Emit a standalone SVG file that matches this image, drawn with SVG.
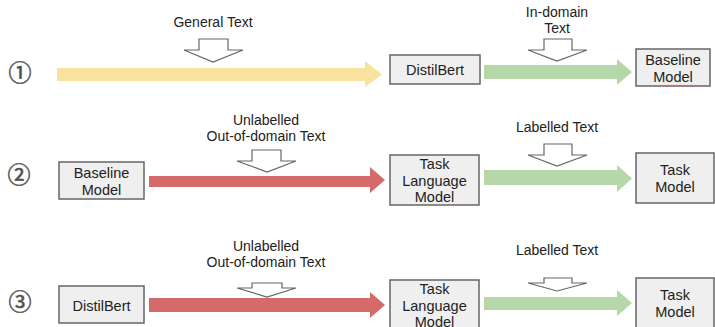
<svg xmlns="http://www.w3.org/2000/svg" width="715" height="327" viewBox="0 0 715 327">
  <style>
    text { font-family: "Liberation Sans", Arial, sans-serif; font-size: 14px; fill: #222; text-anchor: middle; }
    .box rect { fill: #efefef; stroke: #666; stroke-width: 1.5; }
    .box text { font-size: 14.5px; }
    .num { font-family: "Noto Sans CJK JP", "DejaVu Sans", sans-serif; font-size: 23px; font-weight: 400; fill: #444; stroke: #666; stroke-width: 0.7; }
    .feed { fill: #fff; stroke: #666; stroke-width: 1.2; stroke-linejoin: miter; }
    .yellow { fill: #f9e29d; }
    .green { fill: #b6d7a8; }
    .red { fill: #d46a6a; }
  </style>

  <!-- step numbers -->
  <g id="step-numbers">
    <text class="num" x="20" y="81">①</text>
    <text class="num" x="19" y="183">②</text>
    <text class="num" x="20" y="310">③</text>
  </g>

  <!-- connectors: wide block arrows between models -->
  <g id="connectors">
    <polygon class="yellow" points="57,68 365,68 365,61 382,74.5 365,87 365,81 57,81"/>
    <polygon class="green" points="484,65 617,65 617,59 632,72 617,85 617,79 484,79"/>
    <polygon class="red" points="149,176 370,176 370,167 385,180 370,193 370,187 149,187"/>
    <polygon class="green" points="484,170 617,170 617,165 632,178.5 617,192 617,185 484,185"/>
    <polygon class="red" points="149,298 370,298 370,292 385,305 370,318 370,312 149,312"/>
    <polygon class="green" points="484,297 617,297 617,290 632,303 617,316 617,310 484,310"/>
  </g>

  <!-- data inputs: labels with hollow down arrows -->
  <g id="input-general">
    <text x="213" y="27">General Text</text>
    <polygon class="feed" points="199,39 228,39 228,50 243,50 213,62 184,50 199,50"/>
  </g>
  <g id="input-indomain">
    <text x="557" y="17">In-domain</text>
    <text x="557" y="33">Text</text>
    <polygon class="feed" points="544,39 572,39 572,50 587,50 557,61 528,50 544,50"/>
  </g>
  <g id="input-unlabelled-2">
    <text x="266" y="125">Unlabelled</text>
    <text x="266" y="141">Out-of-domain Text</text>
    <polygon class="feed" points="252,150 281,150 281,161 296,161 267,172 237,161 252,161"/>
  </g>
  <g id="input-labelled-2">
    <text x="557" y="132">Labelled Text</text>
    <polygon class="feed" points="544,144 572,144 572,155 587,155 557,166 528,155 544,155"/>
  </g>
  <g id="input-unlabelled-3">
    <text x="266" y="251">Unlabelled</text>
    <text x="266" y="267">Out-of-domain Text</text>
    <polygon class="feed" points="252,283 282,283 282,288 296,288 267,297 237,288 252,288"/>
  </g>
  <g id="input-labelled-3">
    <text x="557" y="255">Labelled Text</text>
    <polygon class="feed" points="544,278 572,278 572,283 587,283 557,291 528,283 544,283"/>
  </g>

  <!-- model nodes -->
  <g id="distilbert-1" class="box">
    <rect x="390" y="55" width="90" height="29"/>
    <text x="435" y="75">DistilBert</text>
  </g>
  <g id="baseline-1" class="box">
    <rect x="636" y="49" width="74" height="37"/>
    <text x="673" y="65">Baseline</text>
    <text x="673" y="82">Model</text>
    <path d="M658,86.5 l2,-1.5 l2,1.5 l2,-1.5 l2,1.5 l2,-1.5 l2,1.5 l2,-1.5 l2,1.5 l2,-1.5 l2,1.5 l2,-1.5 l2,1.5 l2,-1.5 l2,1.5 l2,-1.5 l2,1.5 l2,-1.5 l2,1.5 l2,-1.5 l2,1.5" fill="none" stroke="#e06666" stroke-width="0.8"/>
  </g>
  <g id="baseline-2" class="box">
    <rect x="59" y="162" width="85" height="37"/>
    <text x="101.5" y="178">Baseline</text>
    <text x="101.5" y="195">Model</text>
  </g>
  <g id="task-lm-2" class="box">
    <rect x="390" y="155" width="89" height="50"/>
    <text x="434.5" y="169">Task</text>
    <text x="434.5" y="186">Language</text>
    <text x="434.5" y="202">Model</text>
  </g>
  <g id="task-model-2" class="box">
    <rect x="636" y="153" width="78" height="50"/>
    <text x="675" y="175">Task</text>
    <text x="675" y="192">Model</text>
  </g>
  <g id="distilbert-3" class="box">
    <rect x="59" y="286" width="85" height="37"/>
    <text x="101.5" y="311">DistilBert</text>
  </g>
  <g id="task-lm-3" class="box">
    <rect x="390" y="280" width="89" height="55"/>
    <text x="434.5" y="294">Task</text>
    <text x="434.5" y="311">Language</text>
    <text x="434.5" y="326.5">Model</text>
  </g>
  <g id="task-model-3" class="box">
    <rect x="636" y="278" width="78" height="55"/>
    <text x="675" y="300">Task</text>
    <text x="675" y="317">Model</text>
  </g>
</svg>
